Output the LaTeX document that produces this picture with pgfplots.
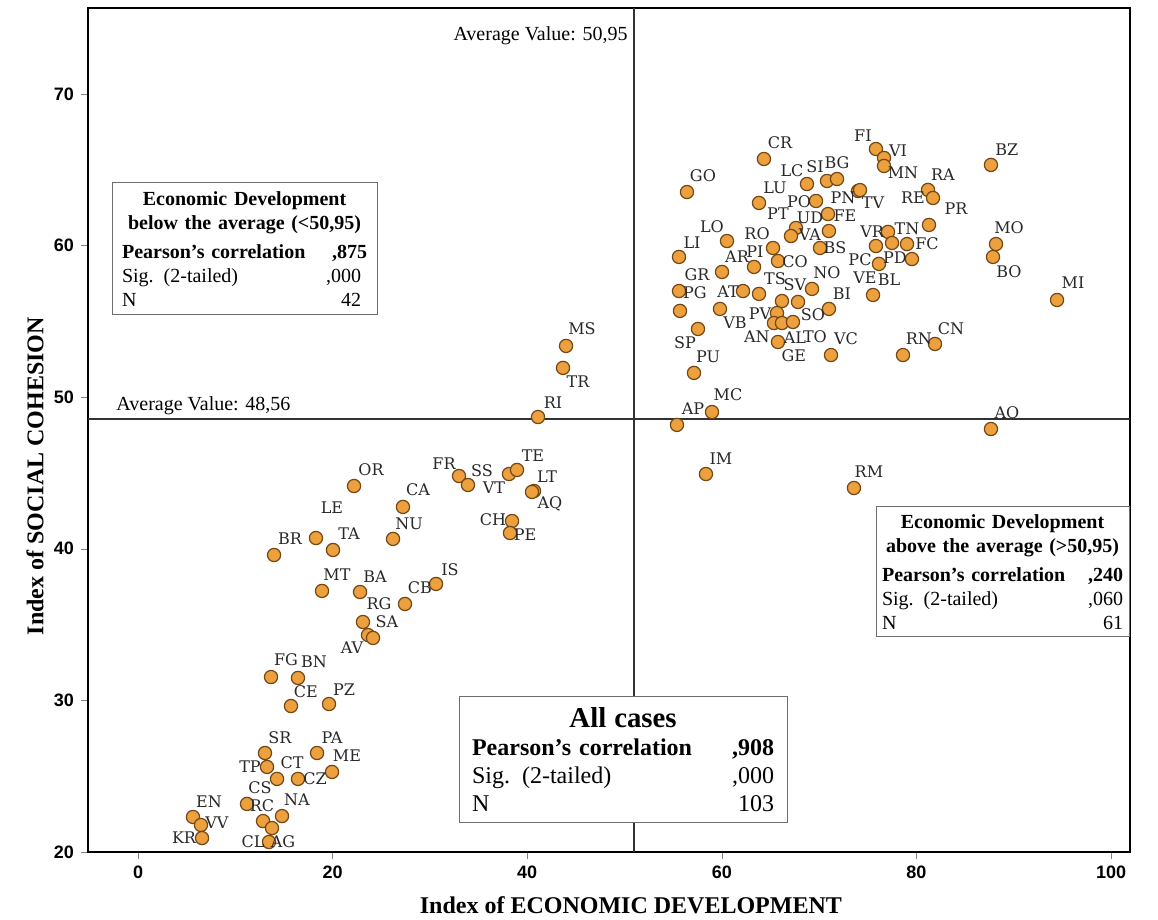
\documentclass[border=0pt]{standalone}
\usepackage{pgfplots}
\pgfplotsset{compat=1.18}
\usepackage{fontspec}
\setmainfont{Liberation Serif}
\newfontfamily\labfont{DejaVu Serif}
\newfontfamily\tickfont{Liberation Sans}
\definecolor{dotfill}{RGB}{236,160,62}
\definecolor{dotedge}{RGB}{115,70,20}
\definecolor{linegray}{RGB}{50,50,50}
\definecolor{boxgray}{RGB}{110,110,110}
\definecolor{labgray}{RGB}{40,40,40}

\begin{document}
\begin{tikzpicture}
\path[use as bounding box] (-44pt,-34pt) rectangle (535pt,426pt);
\begin{axis}[
  at={(0pt,0pt)}, anchor=south west,
  scale only axis, width=521pt, height=422pt,
  xmin=-5.14, xmax=101.95, ymin=20, ymax=75.67,
  xtick={0,20,40,60,80,100}, ytick={20,30,40,50,60,70},
  xticklabels={0,20,40,60,80,100}, yticklabels={20,30,40,50,60,70},
  tick align=outside, major tick length=3.5pt,
  xtick pos=left, ytick pos=left,
  axis line style={line width=0.8pt},
  ticklabel style={font=\tickfont\bfseries\small},
  xlabel={Index of ECONOMIC DEVELOPMENT},
  ylabel={Index of SOCIAL COHESION},
  label style={font=\bfseries\large},
  xlabel style={at={(axis description cs:0.521,-0.0628)}, anchor=center},
  ylabel style={at={(axis description cs:-0.0509,0.4455)}, anchor=center},
]
\addplot[color=linegray, line width=0.9pt] coordinates {(50.95,20) (50.95,75.67)};
\addplot[color=linegray, line width=0.9pt] coordinates {(-5.14,48.56) (101.95,48.56)};

\addplot[only marks, mark=*, mark size=3.3pt,
  mark options={fill=dotfill, draw=dotedge, line width=0.6pt}]
  coordinates {
(64.33,65.71) (56.42,63.53) (68.75,64.06) (70.81,64.26) (71.84,64.39)
(75.84,66.37) (76.67,65.78) (76.67,65.25) (63.82,62.81) (69.68,62.94)
(74.00,63.60) (74.20,63.66) (70.91,62.08) (67.62,61.16) (67.11,60.63)
(71.01,60.96) (60.53,60.30) (55.60,59.25) (65.26,59.84) (70.09,59.84)
(63.31,58.59) (65.77,58.98) (60.02,58.26) (77.08,60.90) (77.49,60.17)
(79.03,60.10) (76.15,58.79) (75.84,59.97) (79.54,59.11) (75.54,56.74)
(81.19,63.67) (81.70,63.14) (81.29,61.36) (87.66,65.32) (88.18,60.10)
(87.87,59.25) (94.45,56.41) (81.91,53.51) (78.62,52.78) (71.22,52.78)
(55.60,57.00) (55.70,55.69) (62.18,57.00) (63.82,56.81) (59.81,55.82)
(69.27,57.14) (57.55,54.50) (66.18,56.34) (67.83,56.28) (71.01,55.82)
(65.67,55.55) (65.36,54.89) (66.18,54.89) (67.31,54.96) (65.77,53.64)
(57.14,51.60) (55.39,48.17) (58.99,49.02) (58.37,44.93) (73.58,44.01)
(87.66,47.90) (43.99,53.38) (43.68,51.93) (41.11,48.69) (32.99,44.80)
(33.91,44.21) (38.13,44.93) (38.95,45.20) (40.70,43.81) (40.49,43.75)
(38.44,41.83) (38.23,41.04) (22.20,44.14) (27.23,42.76) (26.21,40.65)
(18.29,40.71) (20.04,39.92) (13.98,39.59) (18.91,37.22) (22.82,37.15)
(30.63,37.68) (27.44,36.36) (23.12,35.17) (23.64,34.31) (24.15,34.12)
(13.67,31.54) (16.44,31.48) (15.72,29.63) (19.63,29.76) (13.05,26.53)
(18.40,26.53) (19.94,25.28) (13.26,25.61) (14.29,24.82) (16.44,24.82)
(11.20,23.17) (12.85,22.04) (14.80,22.37) (13.77,21.58) (13.46,20.66)
(5.65,22.31) (6.47,21.78) (6.58,20.92)
};

% case codes, written at their label positions
\addplot[only marks, mark=*, mark size=0pt, draw=none, fill=none,
  point meta=explicit symbolic,
  nodes near coords,
  every node near coord/.append style={anchor=center, inner sep=0pt,
     text=labgray, font=\labfont\footnotesize},
] coordinates {
(65.97,66.77) [CR] (58.06,64.59) [GO] (67.21,64.92) [LC] (69.58,65.18) [SI]
(71.84,65.45) [BG] (74.50,67.23) [FI] (78.11,66.24) [VI] (78.62,64.79) [MN]
(65.46,63.80) [LU] (67.93,62.87) [PO] (72.46,63.14) [PN] (75.54,62.80) [TV]
(72.66,61.95) [FE] (69.06,61.82) [UD] (65.77,62.08) [PT] (69.06,60.70) [VA]
(58.99,61.22) [LO] (56.94,60.17) [LI] (63.62,60.76) [RO] (71.63,59.84) [BS]
(63.41,59.58) [PI] (67.52,58.91) [CO] (61.56,59.25) [AR] (75.44,60.90) [VR]
(79.03,61.09) [TN] (81.09,60.10) [FC] (74.20,59.05) [PC] (77.79,59.18) [PD]
(77.18,57.72) [BL] (74.72,57.86) [VE] (82.73,64.66) [RA] (79.64,63.14) [RE]
(84.07,62.42) [PR] (89.30,66.31) [BZ] (89.52,61.16) [MO] (89.51,58.26) [BO]
(96.09,57.53) [MI] (83.55,54.50) [CN] (80.26,53.84) [RN] (72.76,53.84) [VC]
(57.24,56.87) [PG] (57.45,58.07) [GR] (60.64,56.93) [AT] (65.46,57.80) [TS]
(61.35,54.90) [VB] (70.81,58.20) [NO] (56.21,53.58) [SP] (67.52,57.40) [SV]
(69.37,55.42) [SO] (72.35,56.81) [BI] (63.92,55.48) [PV] (63.61,53.97) [AN]
(67.52,53.90) [AL] (69.57,53.97) [TO] (67.41,52.72) [GE] (58.58,52.66) [PU]
(57.03,49.23) [AP] (60.63,50.14) [MC] (59.91,45.92) [IM] (75.12,45.07) [RM]
(89.30,48.96) [AO] (45.63,54.50) [MS] (45.22,51.01) [TR] (42.65,49.61) [RI]
(31.45,45.59) [FR] (35.35,45.13) [SS] (36.59,44.01) [VT] (40.59,46.12) [TE]
(42.04,44.73) [LT] (42.34,42.96) [AQ] (36.49,41.90) [CH] (39.77,40.91) [PE]
(23.95,45.20) [OR] (28.77,43.88) [CA] (27.85,41.64) [NU] (19.93,42.69) [LE]
(21.68,40.98) [TA] (15.62,40.65) [BR] (20.45,38.28) [MT] (24.36,38.14) [BA]
(32.07,38.60) [IS] (28.98,37.42) [CB] (24.76,36.36) [RG] (22.00,33.45) [AV]
(25.59,35.18) [SA] (15.21,32.66) [FG] (18.08,32.54) [BN] (17.26,30.55) [CE]
(21.17,30.68) [PZ] (14.59,27.52) [SR] (19.94,27.52) [PA] (21.48,26.34) [ME]
(11.51,25.61) [TP] (15.83,25.88) [CT] (18.19,24.82) [CZ] (12.54,24.23) [CS]
(12.75,23.03) [RC] (16.34,23.43) [NA] (14.90,20.66) [AG] (11.82,20.66) [CL]
(7.29,23.30) [EN] (8.11,21.91) [VV] (4.73,20.92) [KR]
};

\node[anchor=base east, font=\normalsize, inner sep=0pt]
  at (axis cs:50.35,73.50) {Average Value: 50,95};
\node[anchor=base west, font=\normalsize, inner sep=0pt]
  at (axis cs:-2.26,49.10) {Average Value: 48,56};

\node[draw=boxgray, fill=white, line width=0.5pt, inner xsep=5pt, inner ysep=0pt,
  text width=122.5pt, align=center, minimum height=66pt, font=\normalsize]
  at (axis cs:10.95,59.78) {%
  \textbf{Economic Development}\\
  \textbf{below the average (<50,95)}\\
  \leavevmode\hbox to 122.5pt{\rule{0pt}{11pt}\textbf{Pearson's correlation}\hfill\textbf{,875}}\\
  \leavevmode\hbox to 122.5pt{Sig. (2-tailed)\hfill ,000\hspace{3pt}}\\
  \leavevmode\hbox to 122.5pt{N\hfill 42\hspace{3pt}}};

\node[draw=boxgray, fill=white, line width=0.5pt, inner xsep=3pt, inner ysep=0pt,
  text width=120.5pt, align=center, minimum height=65pt, font=\normalsize]
  at (axis cs:88.85,38.47) {%
  \textbf{Economic Development}\\
  \textbf{above the average (>50,95)}\\
  \leavevmode\hbox to 120.5pt{\rule{0pt}{11pt}\textbf{Pearson's correlation}\hfill\textbf{,240}}\\
  \leavevmode\hbox to 120.5pt{Sig. (2-tailed)\hfill ,060}\\
  \leavevmode\hbox to 120.5pt{N\hfill 61}};

\node[draw=boxgray, fill=white, line width=0.5pt, inner xsep=6.5pt, inner ysep=0pt,
  text width=151pt, align=center, minimum height=63pt, font=\large]
  at (axis cs:49.85,26.07) {%
  {\Large\bfseries All cases}\\
  \leavevmode\hbox to 151pt{\textbf{Pearson's correlation}\hfill\textbf{,908}}\\
  \leavevmode\hbox to 151pt{Sig. (2-tailed)\hfill ,000}\\
  \leavevmode\hbox to 151pt{N\hfill 103}};
\end{axis}
\end{tikzpicture}
\end{document}
